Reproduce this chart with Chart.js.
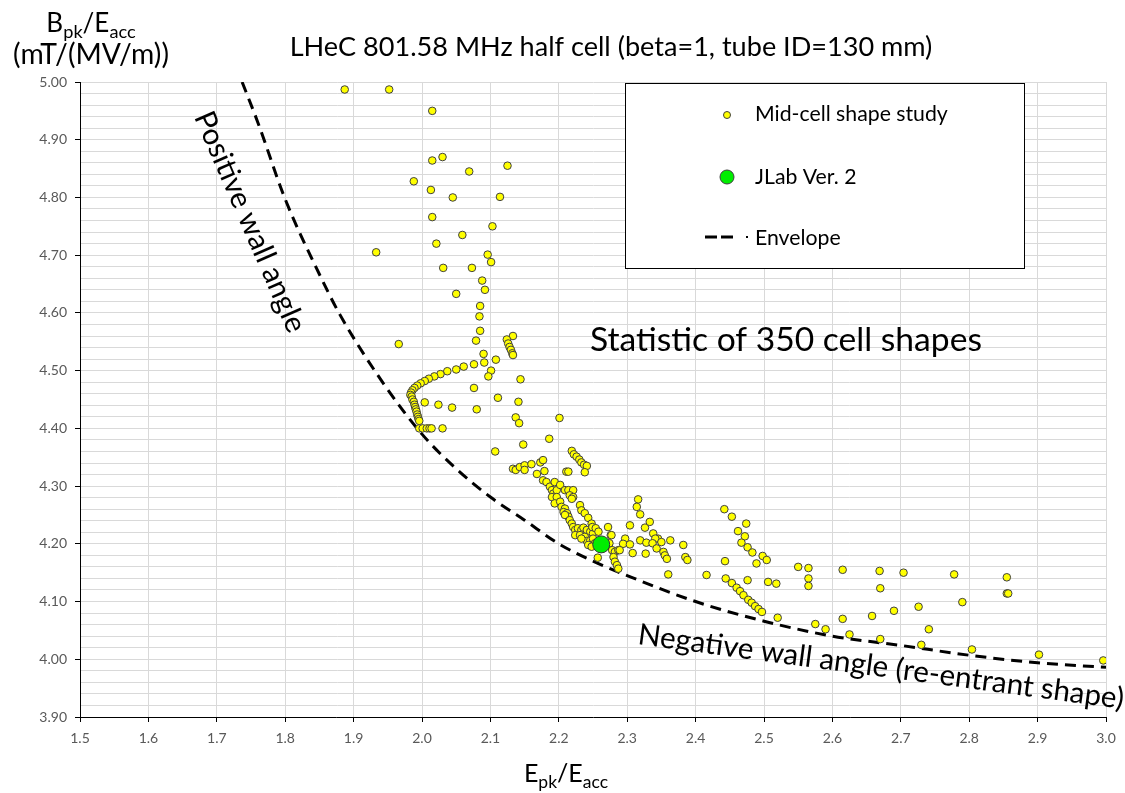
<!doctype html>
<html>
<head>
<title>LHeC 801.58 MHz half cell</title>
<script src="https://cdn.jsdelivr.net/npm/chart.js@4.4.0/dist/chart.umd.min.js"></script>
<style>
body { margin: 0; background: #fff; }
canvas { display: block; }
</style>
</head>
<body>
<canvas id="chart" width="1125" height="793"></canvas>
<script>
// mid-cell shape study (Epk/Eacc, Bpk/Eacc)
var shapeEpk = [
  1.887, 1.952, 2.015, 2.015, 2.030, 2.069, 2.125, 1.988, 2.013, 2.045, 2.114, 2.015, 2.103, 2.059,
  2.021, 1.933, 2.096, 2.101, 2.031, 2.073, 2.088, 2.092, 2.050, 2.085, 2.084, 2.085, 2.079, 1.966,
  2.133, 2.124, 2.126, 2.128, 2.130, 2.132, 2.133, 2.090, 2.108, 2.091, 2.101, 2.097, 2.144,
  2.076, 2.061, 2.050, 2.037, 2.027, 2.018, 2.010, 2.004, 1.998, 1.993, 1.989, 1.986, 1.984, 1.983,
  1.985, 1.986, 1.988, 1.989, 1.990, 1.991, 1.992, 1.993, 1.994, 1.995, 1.996, 1.996, 2.001, 2.007,
  2.011, 2.014, 2.030,
  2.004, 2.024, 2.044, 2.076, 2.080, 2.111, 2.141, 2.137, 2.142, 2.201, 2.186, 2.148, 2.107,
  2.133, 2.137, 2.143, 2.150, 2.150, 2.160, 2.173, 2.177, 2.168, 2.179, 2.211, 2.214,
  2.219, 2.222, 2.226, 2.230, 2.233, 2.237, 2.241, 2.238,
  2.177, 2.182, 2.187, 2.194, 2.190, 2.192, 2.197, 2.202, 2.190, 2.197, 2.194, 2.202, 2.204, 2.209,
  2.207, 2.212, 2.214, 2.209, 2.216, 2.219, 2.221, 2.224, 2.228, 2.233, 2.236, 2.241, 2.246, 2.250,
  2.224, 2.231, 2.238, 2.241, 2.246, 2.250, 2.253, 2.255, 2.233, 2.243, 2.248, 2.209, 2.214, 2.221,
  2.216, 2.221, 2.219, 2.231, 2.233, 2.238, 2.243, 2.248, 2.249, 2.254, 2.258, 2.272, 2.276, 2.274,
  2.278, 2.282, 2.287, 2.257, 2.280, 2.282, 2.285, 2.287,
  2.316, 2.314, 2.319, 2.304, 2.326, 2.333, 2.338, 2.345, 2.341, 2.350, 2.363, 2.319, 2.328, 2.337,
  2.343, 2.353, 2.355, 2.358, 2.277, 2.297, 2.294, 2.304, 2.289, 2.308, 2.327, 2.382, 2.385, 2.388,
  2.360, 2.416,
  2.442, 2.453, 2.474, 2.462, 2.472, 2.467, 2.476, 2.483, 2.498, 2.504, 2.489, 2.443, 2.444, 2.453,
  2.460, 2.465, 2.470, 2.477, 2.482, 2.487, 2.492, 2.497, 2.476, 2.506, 2.518, 2.520, 2.550, 2.565,
  2.565, 2.565, 2.615, 2.615,
  2.669, 2.704, 2.778, 2.855, 2.670, 2.855, 2.857, 2.790, 2.726, 2.690, 2.658, 2.625, 2.670, 2.741,
  2.730, 2.804, 2.902, 2.996, 2.575, 2.590
];
var shapeBpk = [
  4.987, 4.987, 4.950, 4.864, 4.870, 4.845, 4.855, 4.828, 4.813, 4.800, 4.801, 4.766, 4.750, 4.735,
  4.720, 4.705, 4.701, 4.688, 4.678, 4.678, 4.656, 4.640, 4.633, 4.612, 4.594, 4.569, 4.552, 4.546,
  4.560, 4.554, 4.547, 4.541, 4.536, 4.530, 4.527, 4.529, 4.519, 4.514, 4.500, 4.490, 4.485,
  4.511, 4.507, 4.502, 4.499, 4.494, 4.490, 4.486, 4.482, 4.478, 4.474, 4.470, 4.466, 4.462, 4.458,
  4.455, 4.450, 4.446, 4.441, 4.437, 4.433, 4.429, 4.424, 4.420, 4.416, 4.413, 4.400, 4.400, 4.400,
  4.400, 4.400, 4.400,
  4.445, 4.441, 4.436, 4.470, 4.433, 4.453, 4.446, 4.419, 4.409, 4.418, 4.382, 4.372, 4.360,
  4.330, 4.328, 4.333, 4.336, 4.328, 4.338, 4.341, 4.345, 4.321, 4.326, 4.325, 4.325,
  4.361, 4.355, 4.351, 4.346, 4.341, 4.337, 4.335, 4.324,
  4.310, 4.307, 4.299, 4.307, 4.293, 4.287, 4.293, 4.302, 4.281, 4.281, 4.270, 4.273, 4.264, 4.261,
  4.255, 4.253, 4.247, 4.250, 4.241, 4.235, 4.229, 4.224, 4.227, 4.224, 4.228, 4.224, 4.221, 4.218,
  4.215, 4.215, 4.212, 4.205, 4.206, 4.209, 4.201, 4.198, 4.209, 4.198, 4.195, 4.293, 4.293, 4.293,
  4.284, 4.281, 4.278, 4.267, 4.258, 4.253, 4.245, 4.235, 4.229, 4.227, 4.221, 4.229, 4.215, 4.201,
  4.189, 4.186, 4.189, 4.176, 4.177, 4.169, 4.163, 4.157,
  4.277, 4.264, 4.251, 4.232, 4.228, 4.238, 4.218, 4.209, 4.209, 4.203, 4.206, 4.206, 4.202, 4.201,
  4.192, 4.186, 4.180, 4.174, 4.215, 4.209, 4.200, 4.199, 4.189, 4.184, 4.183, 4.198, 4.177, 4.172,
  4.147, 4.146,
  4.260, 4.247, 4.235, 4.222, 4.213, 4.202, 4.194, 4.185, 4.179, 4.172, 4.166, 4.170, 4.140, 4.132,
  4.124, 4.118, 4.111, 4.103, 4.098, 4.092, 4.087, 4.082, 4.137, 4.134, 4.131, 4.072, 4.160, 4.158,
  4.140, 4.127, 4.155, 4.070,
  4.153, 4.150, 4.147, 4.142, 4.123, 4.114, 4.114, 4.099, 4.091, 4.084, 4.075, 4.043, 4.035, 4.052,
  4.025, 4.017, 4.008, 3.998, 4.061, 4.052
];

// JLab Ver. 2
var jlabEpk = [2.262];
var jlabBpk = [4.199];

// lower envelope
var envelopeEpk = [1.737, 1.76, 1.80, 1.85, 1.88, 1.94, 2.00, 2.05, 2.10, 2.15, 2.20, 2.25, 2.30, 2.40, 2.50, 2.60, 2.70, 2.80, 2.90, 3.00];
var envelopeBpk = [5.00, 4.93, 4.797, 4.667, 4.597, 4.484, 4.39, 4.33, 4.281, 4.241, 4.20, 4.17, 4.145, 4.10, 4.066, 4.04, 4.024, 4.007, 3.994, 3.986];

var xMin = 1.5, xMax = 3.0, xStep = 0.1;
var yMin = 3.9, yMax = 5.0, yStep = 0.02;

var titleText = 'LHeC 801.58 MHz half cell (beta=1, tube ID=130 mm)';
var FONT = 'Lato, "Open Sans", sans-serif';

function toPoints(xs, ys) {
  return xs.map(function(x, i) { return {x: x, y: ys[i]}; });
}

function isMajor(v) {
  return Math.abs(v * 10 - Math.round(v * 10)) < 1e-6;
}

function fitSize(ctx, text, width) {
  ctx.font = '100px ' + FONT;
  return 100 * width / ctx.measureText(text).width;
}

// text with subscripts, centred on cx
function richText(ctx, parts, cx, y, size) {
  var sub = size * 0.7, total = 0;
  var items = parts.map(function(p) {
    ctx.font = (p[1] ? sub : size) + 'px ' + FONT;
    var w = ctx.measureText(p[0]).width;
    total += w;
    return {t: p[0], sub: p[1], w: w};
  });
  var x = cx - total / 2;
  ctx.textAlign = 'left';
  ctx.textBaseline = 'alphabetic';
  items.forEach(function(it) {
    ctx.font = (it.sub ? sub : size) + 'px ' + FONT;
    ctx.fillText(it.t, x, it.sub ? y + size * 0.22 : y);
    x += it.w;
  });
}

function rotatedText(ctx, text, cx, cy, width, angle) {
  var s = fitSize(ctx, text, width);
  ctx.save();
  ctx.translate(cx, cy);
  ctx.rotate(angle * Math.PI / 180);
  ctx.font = s + 'px ' + FONT;
  ctx.textAlign = 'center';
  ctx.textBaseline = 'middle';
  ctx.fillText(text, 0, 0);
  ctx.restore();
}

var annotations = {
  id: 'annotations',
  afterDraw: function(chart) {
    var ctx = chart.ctx;
    ctx.save();
    ctx.fillStyle = '#000';

    var s = fitSize(ctx, titleText, 643);
    ctx.font = s + 'px ' + FONT;
    ctx.textAlign = 'center';
    ctx.textBaseline = 'middle';
    ctx.fillText(titleText, 611, 47);

    richText(ctx, [['B', false], ['pk', true], ['/E', false], ['acc', true]], 91, 32, 26);
    ctx.font = fitSize(ctx, '(mT/(MV/m))', 156) + 'px ' + FONT;
    ctx.textAlign = 'center';
    ctx.fillText('(mT/(MV/m))', 91, 64);

    richText(ctx, [['E', false], ['pk', true], ['/E', false], ['acc', true]], 566, 782, 25);

    rotatedText(ctx, 'Statistic of 350 cell shapes', 786, 340, 392, 0);
    rotatedText(ctx, 'Positive wall angle', 250, 222, 238, 66.5);
    rotatedText(ctx, 'Negative wall angle (re-entrant shape)', 881, 667, 490, 7.6);

    // legend box
    ctx.fillStyle = '#fff';
    ctx.fillRect(625, 83, 399, 185);
    ctx.strokeStyle = '#000';
    ctx.lineWidth = 1;
    ctx.strokeRect(625.5, 83.5, 399, 185);

    ctx.lineWidth = 1;
    ctx.strokeStyle = '#404040';
    ctx.fillStyle = '#ffff00';
    ctx.beginPath();
    ctx.arc(727, 115, 3.5, 0, Math.PI * 2);
    ctx.fill();
    ctx.stroke();
    ctx.fillStyle = '#00ee00';
    ctx.beginPath();
    ctx.arc(727, 177, 7, 0, Math.PI * 2);
    ctx.fill();
    ctx.stroke();

    ctx.strokeStyle = '#000';
    ctx.lineWidth = 3;
    ctx.beginPath();
    ctx.moveTo(705, 237); ctx.lineTo(717, 237);
    ctx.moveTo(721, 237); ctx.lineTo(733, 237);
    ctx.stroke();
    ctx.fillStyle = '#000';
    ctx.fillRect(746, 236, 2, 2);

    var ls = fitSize(ctx, 'Mid-cell shape study', 193);
    ctx.font = ls + 'px ' + FONT;
    ctx.fillStyle = '#000';
    ctx.textAlign = 'left';
    ctx.textBaseline = 'middle';
    ctx.fillText('Mid-cell shape study', 755, 114);
    ctx.fillText('JLab Ver. 2', 755, 177);
    ctx.fillText('Envelope', 755, 238);
    ctx.restore();
  }
};

new Chart(document.getElementById('chart').getContext('2d'), {
  type: 'scatter',
  data: {
    datasets: [{
      label: 'JLab Ver. 2',
      data: toPoints(jlabEpk, jlabBpk),
      backgroundColor: '#00ee00',
      borderColor: '#333333',
      borderWidth: 1,
      pointRadius: 8.5,
      order: 0
    }, {
      label: 'Mid-cell shape study',
      data: toPoints(shapeEpk, shapeBpk),
      backgroundColor: '#ffff00',
      borderColor: '#404040',
      borderWidth: 1,
      pointRadius: 3.8,
      order: 1
    }, {
      label: 'Envelope',
      data: toPoints(envelopeEpk, envelopeBpk),
      showLine: true,
      borderColor: '#000',
      borderWidth: 3,
      borderDash: [11, 7],
      pointRadius: 0,
      cubicInterpolationMode: 'monotone',
      order: 2
    }]
  },
  options: {
    responsive: false,
    animation: false,
    devicePixelRatio: 1,
    layout: { padding: { top: 82, right: 19, left: 0, bottom: 0 } },
    plugins: {
      legend: { display: false },
      title: { display: false },
      tooltip: { enabled: false }
    },
    scales: {
      x: {
        type: 'linear',
        min: xMin,
        max: xMax,
        afterFit: function(scale) { scale.height = 76; },
        border: { color: '#000', width: 1 },
        grid: { color: '#d9d9d9', tickColor: '#000', tickLength: 5 },
        ticks: {
          stepSize: xStep,
          color: '#595959',
          padding: 8,
          font: { family: FONT, size: 14 },
          callback: function(v) { return v.toFixed(1); }
        }
      },
      y: {
        type: 'linear',
        min: yMin,
        max: yMax,
        afterFit: function(scale) { scale.width = 80; },
        border: { color: '#000', width: 1 },
        grid: {
          color: '#d9d9d9',
          tickLength: 5,
          tickColor: function(ctx) { return ctx.tick && isMajor(ctx.tick.value) ? '#000' : 'rgba(0,0,0,0)'; }
        },
        ticks: {
          stepSize: yStep,
          autoSkip: false,
          maxTicksLimit: 200,
          color: '#595959',
          padding: 8,
          font: { family: FONT, size: 14 },
          callback: function(v) { return isMajor(v) ? v.toFixed(2) : ''; }
        }
      }
    }
  },
  plugins: [annotations]
});
</script>
</body>
</html>
